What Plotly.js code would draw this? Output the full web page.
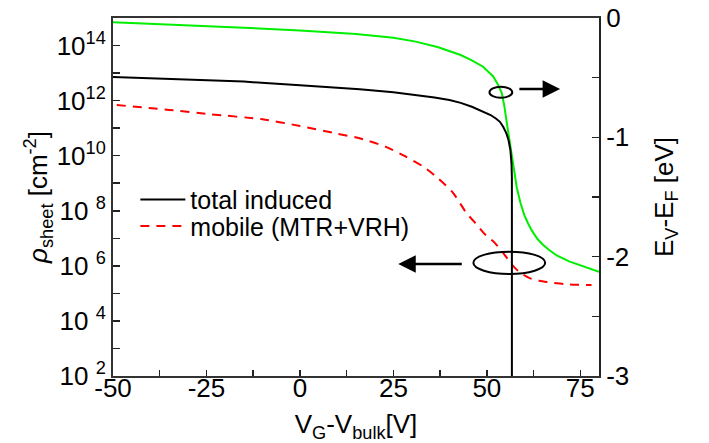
<!DOCTYPE html>
<html>
<head>
<meta charset="utf-8">
<script src="https://cdn.plot.ly/plotly-3.0.1.min.js"></script>
<style>html,body{margin:0;padding:0;background:#fff;}#plot{width:709px;height:443px;}</style>
</head>
<body>
<div id="plot"></div>
<script>
// ---- data ----
const xTotal = [-50, -30, -15, 0, 16, 25, 31, 36, 40, 43, 46, 49, 51, 52.5, 53.5, 54.4, 55.2, 55.8, 56.3, 56.6, 56.7, 56.7];
const yTotal = [7.2e12, 5.9e12, 4.9e12, 3.6e12, 2.6e12, 2.0e12, 1.6e12, 1.3e12, 1.05e12, 8.3e11, 6.0e11, 4.0e11, 3.0e11, 2.2e11, 1.7e11, 1.1e11, 6.6e10, 3.7e10, 1.6e10, 5.0e9, 1.6e9, 1e2];

const xMobile = [-49, -35, -24, -10, 0, 10, 16, 23, 28, 33, 37, 41, 44.6, 47, 49.5, 52, 54.5, 57, 59, 61.6, 64, 67, 72, 78];
const yMobile = [6.9e11, 4.6e11, 3.2e11, 2.1e11, 1.2e11, 6.3e10, 4.3e10, 2.1e10, 9.8e9, 4.0e9, 1.5e9, 4.4e8, 8.1e7, 3.5e7, 1.4e7, 7.1e6, 2.8e6, 1.0e6, 5.5e5, 3.5e5, 2.9e5, 2.5e5, 2.1e5, 2.0e5];

const xEv = [-50, -30, -15, 0, 15, 25, 31, 37, 43, 46, 49, 51.7, 53, 54, 54.7, 55.3, 56, 56.7, 57.3, 58, 59, 60, 61, 62, 63.5, 65, 66.5, 68.7, 72, 76, 80];
const yEv = [-0.036, -0.06, -0.081, -0.104, -0.135, -0.165, -0.198, -0.245, -0.31, -0.355, -0.408, -0.49, -0.56, -0.63, -0.74, -0.87, -1.02, -1.16, -1.28, -1.42, -1.55, -1.65, -1.72, -1.78, -1.85, -1.9, -1.94, -1.99, -2.04, -2.085, -2.126];

const seriesNames = ['total induced', 'mobile (MTR+VRH)', 'E_V-E_F'];

const xTickVals = [-50, -25, 0, 25, 50, 75];
const xTickText = ['-50', '-25', '0', '25', '50', '75'];
const xMinorVals = [-37.5, -12.5, 12.5, 37.5, 62.5];
const yTickVals = [1e2, 1e4, 1e6, 1e8, 1e10, 1e12, 1e14];
const yTickText = ['10 <sup>2</sup>', '10 <sup>4</sup>', '10 <sup>6</sup>', '10 <sup>8</sup>', '10<sup>10</sup>', '10<sup>12</sup>', '10<sup>14</sup>'];
const yMinorVals = [1e3, 1e5, 1e7, 1e9, 1e11, 1e13, 1e15];
const y2TickVals = [-3, -2, -1, 0];
const y2TickText = ['-3', '-2', '-1', '0'];
const y2MinorVals = [-2.5, -1.5, -0.5];

const FONT = 'Liberation Sans, Arial, Helvetica, sans-serif';
const X_RANGE = [-50, 80];

const traces = [
  {x: xTotal, y: yTotal, name: seriesNames[0], type: 'scatter', mode: 'lines', xaxis: 'x2',
   line: {color: '#000000', width: 2}, legend: 'legend'},
  {x: xMobile, y: yMobile, name: seriesNames[1], type: 'scatter', mode: 'lines',
   line: {color: '#ff0000', width: 2, dash: '9px,7px', shape: 'spline', smoothing: 0.6}, legend: 'legend2'},
  {x: xEv, y: yEv, name: seriesNames[2], type: 'scatter', mode: 'lines', yaxis: 'y2',
   line: {color: '#00ee00', width: 2}, showlegend: false}
];

const legendCommon = {
  xanchor: 'left', yanchor: 'middle', bgcolor: 'rgba(0,0,0,0)', borderwidth: 0,
  font: {family: FONT, size: 25, color: '#000'}, itemwidth: 45
};

const minorStyle = {ticks: 'inside', ticklen: 7, tickwidth: 1.5, tickcolor: '#222', showgrid: false};

const layout = {
  width: 709, height: 443,
  margin: {l: 113, r: 110, t: 18, b: 67},
  paper_bgcolor: '#fff', plot_bgcolor: '#fff',
  font: {family: FONT, size: 26, color: '#000'},
  showlegend: true,
  legend: Object.assign({x: 0.046, y: 0.492}, legendCommon),
  legend2: Object.assign({x: 0.046, y: 0.418}, legendCommon),
  xaxis: {
    range: X_RANGE, tickmode: 'array', tickvals: xTickVals, ticktext: xTickText, showticklabels: false,
    minor: Object.assign({tickmode: 'array', tickvals: xMinorVals}, minorStyle, {ticklen: 6}),
    ticks: 'inside', ticklen: 6, tickwidth: 1.5, tickcolor: '#222',
    showline: true, linewidth: 2, linecolor: '#333', mirror: true,
    showgrid: false, zeroline: false,
    title: {text: 'V<sub>G</sub>-V<sub>bulk</sub>[V]', font: {family: FONT, size: 26, color: '#000'}, standoff: 38}
  },
  xaxis2: {
    range: X_RANGE, overlaying: 'x', anchor: 'free', position: 0.016, side: 'bottom',
    tickmode: 'array', tickvals: xTickVals, ticktext: xTickText,
    ticks: '', showline: false, showgrid: false, zeroline: false,
    tickfont: {family: FONT, size: 26, color: '#000'}
  },
  yaxis: {
    type: 'log', range: [2, 15], tickmode: 'array', tickvals: yTickVals, ticktext: yTickText,
    minor: Object.assign({tickmode: 'array', tickvals: yMinorVals}, minorStyle),
    ticks: 'inside', ticklen: 7, tickwidth: 1.5, tickcolor: '#222',
    showline: true, linewidth: 2, linecolor: '#333', mirror: true,
    showgrid: false, zeroline: false,
    tickfont: {family: FONT, size: 26, color: '#000'},
    title: {text: '<i>ρ</i><sub>sheet</sub> [cm<sup>-2</sup>]', font: {family: FONT, size: 26, color: '#000'}, standoff: 0}
  },
  yaxis2: {
    overlaying: 'y', side: 'right', range: [-3, 0], tickmode: 'array',
    tickvals: y2TickVals, ticktext: y2TickText,
    minor: Object.assign({tickmode: 'array', tickvals: y2MinorVals}, minorStyle),
    ticks: 'inside', ticklen: 7, tickwidth: 1.5, tickcolor: '#222',
    showline: true, linewidth: 2, linecolor: '#222',
    showgrid: false, zeroline: false,
    tickfont: {family: FONT, size: 26, color: '#000'},
    title: {text: 'E<sub>V</sub>-E<sub>F</sub> [eV]', font: {family: FONT, size: 26, color: '#000'}, standoff: 26}
  },
  shapes: [
    {type: 'circle', xref: 'x', yref: 'y2', x0: 50.7, x1: 56.8, y0: -0.668, y1: -0.576,
     line: {color: '#000', width: 2}},
    {type: 'circle', xref: 'x', yref: 'y2', x0: 46.4, x1: 65.6, y0: -2.145, y1: -1.958,
     line: {color: '#000', width: 2}}
  ],
  annotations: [
    {xref: 'x', yref: 'y2', axref: 'x', ayref: 'y2', x: 69.6, y: -0.595, ax: 58.3, ay: -0.595,
     text: '', showarrow: true, arrowhead: 2, arrowsize: 1.4, arrowwidth: 2.5, arrowcolor: '#000'},
    {xref: 'x', yref: 'y2', axref: 'x', ayref: 'y2', x: 26.3, y: -2.061, ax: 43.7, ay: -2.061,
     text: '', showarrow: true, arrowhead: 2, arrowsize: 1.4, arrowwidth: 2.5, arrowcolor: '#000'}
  ]
};

Plotly.newPlot('plot', traces, layout, {displayModeBar: false, staticPlot: true});
</script>
</body>
</html>
